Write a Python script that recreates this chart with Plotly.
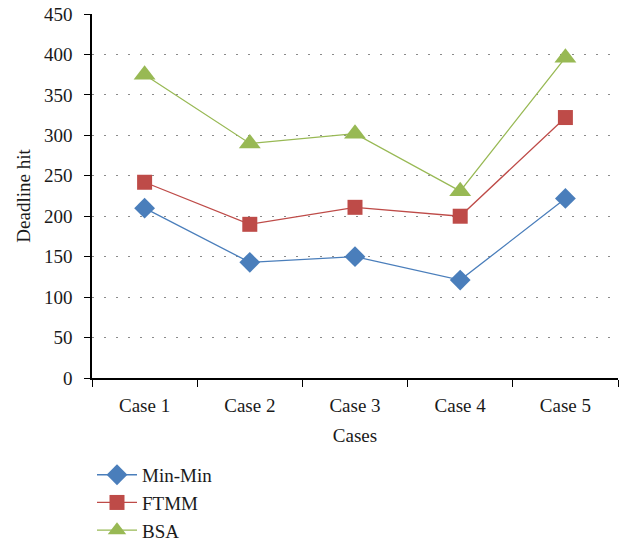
import plotly.graph_objects as go

cases = ["Case 1", "Case 2", "Case 3", "Case 4", "Case 5"]
min_min = [210, 143, 150, 121, 222]
ftmm = [242, 190, 211, 200, 322]
bsa = [375, 290, 302, 231, 396]
y_ticks = [0, 50, 100, 150, 200, 250, 300, 350, 400, 450]

font_family = "Liberation Serif, Times New Roman, serif"
fsize = 19

fig = go.Figure()
series = [
    ("Min-Min", min_min, "#4A7EBB", "diamond", 16),
    ("FTMM", ftmm, "#BE4B48", "square", 15),
    ("BSA", bsa, "#98B954", "triangle-up", 19),
]
for name, vals, color, symbol, size in series:
    fig.add_trace(go.Scatter(
        x=cases, y=vals, name=name, mode="lines+markers",
        line=dict(color=color, width=1.3),
        marker=dict(symbol=symbol, size=size, color=color),
    ))

fig.update_layout(
    width=621, height=546,
    margin=dict(l=92, r=3, t=14, b=168, autoexpand=False),
    paper_bgcolor="white", plot_bgcolor="white",
    font=dict(family=font_family, size=fsize, color="#1a1a1a"),
    showlegend=True,
    legend=dict(
        orientation="v", x=0.0, xanchor="left", y=-0.214, yanchor="top",
        font=dict(family=font_family, size=fsize, color="#1a1a1a"),
        itemwidth=40, tracegroupgap=0, bgcolor="rgba(0,0,0,0)",
    ),
)
fig.update_xaxes(
    type="category", range=[-0.5, 4.5],
    showline=True, linecolor="black", linewidth=1.5,
    ticks="outside", tickson="boundaries", ticklen=7, tickcolor="black",
    ticklabelstandoff=9,
    showgrid=False,
    title=dict(text="Cases", font=dict(family=font_family, size=fsize), standoff=14),
    tickfont=dict(family=font_family, size=fsize),
)
fig.update_yaxes(
    range=[0, 450], tickvals=y_ticks,
    showline=True, linecolor="black", linewidth=1.5,
    ticks="outside", ticklen=6, tickcolor="black",
    ticklabelstandoff=8,
    showgrid=True, gridcolor="#8a8a8a", griddash="2px,10px", gridwidth=1.2,
    zeroline=False,
    title=dict(text="Deadline hit", font=dict(family=font_family, size=fsize), standoff=8),
    tickfont=dict(family=font_family, size=fsize),
)

fig.write_html("out.html")
